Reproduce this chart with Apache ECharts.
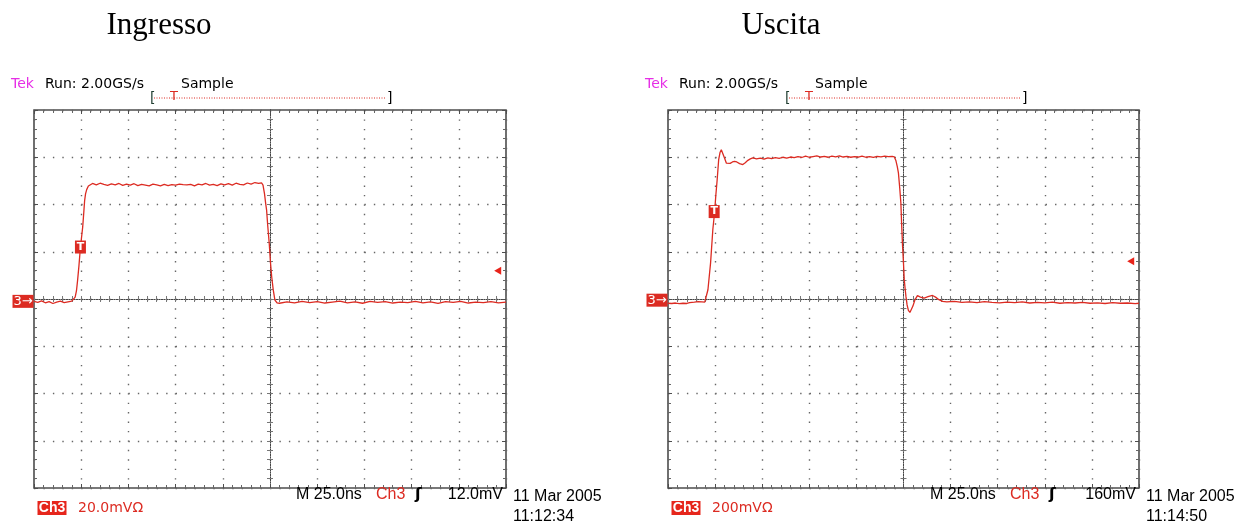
<!DOCTYPE html>
<html>
<head>
<meta charset="utf-8">
<script src="https://cdn.jsdelivr.net/npm/echarts@6/dist/echarts.min.js"></script>
<style>
html,body{margin:0;padding:0;background:#fff;}
#chart{width:1248px;height:524px;}
</style>
</head>
<body>
<div id="chart"></div>
<script>
// ---- data (time in ns, voltage in mV) ----
const panelTitles = ['Ingresso', 'Uscita'];
const timeAxis = {min: 0, max: 250, interval: 25};            // M 25.0ns / div
const inputVoltAxis = {min: -80, max: 80, interval: 20};      // 20.0 mV / div
const outputVoltAxis = {min: -800, max: 800, interval: 200};  // 200 mV / div
const triggerLevels = [12, 160];                              // mV
const groundLevels = [-1, -5];
const triggerPoints = [[24.6, 22], [24.5, 370]];
const scaleLabels = ['20.0mV\u03A9', '200mV\u03A9'];
const levelLabels = ['12.0mV', '160mV'];
const timeStamps = ['11:12:34', '11:14:50'];

const inputSamples = [
  [0,-1.0],[2,-1.4],[4,-0.8],[6,-1.6],[8,-1.1],[10,-1.9],[12,-1.3],[14,-0.9],[16,-1.5],[18,-1.2],
  [20,-0.9],[21,-0.6],[21.8,0.8],[22.5,3.5],[23.1,8],[23.8,14],[24.4,20],[25.1,25.5],[25.8,30.5],
  [26.4,37],[26.8,41.5],[27.3,44.5],[27.9,46.3],[28.8,47.8],[29.7,48.5],[31,48.9],[33,48.3],[35,49.0],
  [37,48.5],[39,48.1],[41,48.7],[43,48.3],[45,48.9],[47,48.1],[49,48.6],[51,48.2],[53,48.8],[55,48.0],
  [57,48.5],[59,48.2],[61,47.9],[63,48.6],[65,48.3],[67,47.9],[69,48.5],[71,48.0],[73,48.4],[75,48.2],
  [77,48.6],[79,48.4],[81,48.3],[83,48.5],[85,47.9],[87,48.6],[89,48.3],[91,48.9],[93,48.2],[95,48.5],
  [97,48.0],[99,48.7],[101,48.3],[103,48.8],[105,48.2],[107,49.0],[109,48.5],[111,48.3],[113,49.1],
  [115,48.6],[117,49.3],[119,48.9],[120.5,49.2],[121.3,48.2],[122.1,44.5],[122.7,40.5],[123.2,37.6],
  [123.8,31],[124.6,23.5],[125.2,16],[125.9,9.4],[126.7,4],[127.6,-0.5],[128.7,-1.6],
  [130,-1.8],[134,-1.2],[138,-1.6],[142,-1.0],[146,-1.5],[150,-1.1],[154,-1.7],[158,-1.3],[162,-0.9],
  [166,-1.6],[170,-1.2],[174,-1.8],[178,-1.0],[182,-1.4],[186,-1.1],[190,-1.7],[194,-1.3],[198,-1.5],
  [202,-1.0],[206,-1.6],[210,-1.2],[214,-1.9],[218,-1.1],[222,-1.4],[226,-1.0],[230,-1.7],[234,-1.3],
  [238,-1.5],[242,-1.1],[246,-1.6],[250,-1.3]
];

const outputSamples = [
  [0,-18],[2,-19],[4,-17],[6,-20],[8,-18],[10,-19],[11.5,-15],[12.5,-12],[14,-13],[16,-11],[18,-12],
  [19.5,-13],[20.3,-10],[21.2,39],[22.6,153],[23.8,294],[24.7,364],[25.4,440],[26.1,505],[26.9,590],
  [27.6,620],[28.3,632],[29.0,625],[30.0,597],[31.0,575],[31.8,569],[33.0,574],[34.2,580],[35.3,583],
  [36.5,580],[38.0,573],[39.7,569],[41.0,577],[42.4,587],[43.7,593],[45.0,597],[47,593],[49,596],
  [51,592],[53,597],[55,594],[57,598],[59,595],[61,600],[63,596],[65,601],[67,598],[69,603],[71,599],
  [73,605],[75,600],[77,603],[79,606],[81,601],[83,604],[85,600],[87,605],[89,602],[91,606],[93,601],
  [95,604],[97,600],[99,603],[101,601],[103,605],[105,600],[107,603],[109,599],[111,604],[113,602],
  [115,605],[117,603],[119,604],[120.1,602],[121.0,585],[121.7,560],[122.3,534],[123.0,470],[123.6,407],
  [124.0,320],[124.5,223],[125.0,150],[125.4,82],[125.9,40],[126.3,11],[126.9,-25],[127.6,-48],
  [128.4,-57],[129.2,-50],[130.0,-30],[131.0,-5],[132.4,14],[134.0,8],[136.0,4],[138.0,10],[140.4,15],
  [142.0,8],[143.8,-3],[145.7,-10],[148,-12],[152,-10],[156,-14],[160,-12],[164,-15],[168,-11],
  [172,-14],[176,-16],[180,-13],[184,-15],[188,-12],[192,-17],[196,-14],[200,-16],[204,-13],[208,-18],
  [212,-15],[216,-17],[220,-14],[224,-18],[228,-16],[232,-19],[236,-15],[240,-18],[244,-17],[248,-20],
  [250,-18]
];

// ---- styling / layout ----
const RED = '#dc2b22';
const FRAME = '#4d4d4d';
const GRIDDOT = '#666';
const SCOPE_FONT = '"DejaVu Sans", Verdana, sans-serif';
const LABEL_FONT = '"Liberation Sans", Arial, sans-serif';
const panels = [
  {left: 34, width: 472},
  {left: 668, width: 471}
];
const TOP = 110, HEIGHT = 378;

function frameAxis(gi, pos, range, showSplit) {
  return {
    type: 'value', gridIndex: gi, position: pos,
    min: range.min, max: range.max, interval: range.interval,
    axisLine: {show: false, onZero: false},
    axisTick: {show: true, inside: true, length: 4, lineStyle: {color: FRAME, width: 1}},
    minorTick: {show: true, splitNumber: 5, length: 3, lineStyle: {color: '#666', width: 1}},
    axisLabel: {show: false},
    splitLine: {show: showSplit, lineStyle: {color: GRIDDOT, width: 1.4, type: [1.4, 8.04]}},
    minorSplitLine: {show: false}
  };
}
function centerAxis(gi, pos, range, offset, inside) {
  return {
    type: 'value', gridIndex: gi, position: pos, offset: offset,
    min: range.min, max: range.max, interval: range.interval,
    axisLine: {show: true, onZero: false, lineStyle: {color: '#444', width: 1, type: [1, 1.5]}},
    axisTick: {show: true, inside: inside, length: 3, lineStyle: {color: '#777', width: 1}},
    minorTick: {show: true, splitNumber: 5, length: 3, lineStyle: {color: '#777', width: 1}},
    axisLabel: {show: false},
    splitLine: {show: false}
  };
}

const grids = [], xAxes = [], yAxes = [], series = [];
const voltRanges = [inputVoltAxis, outputVoltAxis];
const samples = [inputSamples, outputSamples];

panels.forEach((p, gi) => {
  grids.push({left: p.left, top: TOP, width: p.width, height: HEIGHT, show: true,
    borderColor: FRAME, borderWidth: 1.6, backgroundColor: '#fff', containLabel: false});
  const vr = voltRanges[gi];
  xAxes.push(frameAxis(gi, 'bottom', timeAxis, true));
  xAxes.push(frameAxis(gi, 'top', timeAxis, false));
  xAxes.push(centerAxis(gi, 'bottom', timeAxis, -HEIGHT / 2, true));
  xAxes.push(centerAxis(gi, 'bottom', timeAxis, -HEIGHT / 2, false));
  yAxes.push(frameAxis(gi, 'left', vr, true));
  yAxes.push(frameAxis(gi, 'right', vr, false));
  yAxes.push(centerAxis(gi, 'left', vr, -p.width / 2, true));
  yAxes.push(centerAxis(gi, 'left', vr, -p.width / 2, false));

  series.push({
    type: 'line', xAxisIndex: gi * 4, yAxisIndex: gi * 4,
    data: samples[gi], showSymbol: false, symbol: 'none', smooth: false,
    lineStyle: {color: RED, width: 1.3}, z: 5, animation: false, silent: true,
    markPoint: {
      silent: true, animation: false, z: 10,
      data: [
        {coord: triggerPoints[gi], symbol: 'rect', symbolSize: [11, 13],
          itemStyle: {color: RED},
          label: {show: true, position: 'inside', formatter: 'T', color: '#fff',
            fontSize: 11, fontWeight: 'bold', fontFamily: SCOPE_FONT}},
        {coord: [timeAxis.max - 4.4, triggerLevels[gi]], symbol: 'triangle', symbolRotate: 90,
          symbolSize: [8, 7], itemStyle: {color: '#e8231a'}, label: {show: false}},
        {coord: [timeAxis.min, groundLevels[gi]], symbol: 'rect', symbolSize: [21, 13],
          symbolOffset: [-11, 0], itemStyle: {color: RED},
          label: {show: true, position: 'inside', formatter: '3\u2192', color: '#fff',
            fontSize: 13, fontFamily: SCOPE_FONT}}
      ]
    }
  });
});

// ---- texts around the plots ----
const graphics = [];
function txt(x, y, text, font, fill, align) {
  graphics.push({type: 'text', x: x, y: y, silent: true, z: 20,
    style: {text: text, font: font, fill: fill, align: align || 'left', verticalAlign: 'middle'}});
}
const titleX = [159, 781];
const headerX = [11, 645];
const bracketX = [[150, 387], [785, 1022]];
const bracketT = [174, 809];
panels.forEach((p, gi) => {
  const L = p.left, R = p.left + p.width;
  txt(titleX[gi], 26, panelTitles[gi], '31px "Liberation Serif", "Times New Roman", serif', '#000', 'center');
  const hx = headerX[gi];
  txt(hx, 84, 'Tek', '14px ' + SCOPE_FONT, '#e62ee6');
  txt(hx + 34, 84, 'Run: 2.00GS/s', '14px ' + SCOPE_FONT, '#000');
  txt(hx + 170, 84, 'Sample', '14px ' + SCOPE_FONT, '#000');
  // record bar
  const [b0, b1] = bracketX[gi];
  graphics.push({type: 'line', silent: true, z: 19,
    shape: {x1: b0 + 4, y1: 98, x2: b1 - 2, y2: 98},
    style: {stroke: RED, lineWidth: 1, lineDash: [1, 1.5]}});
  txt(b0, 98, '[', '14px ' + SCOPE_FONT, '#1f3d30');
  txt(b1, 98, ']', '14px ' + SCOPE_FONT, '#000');
  txt(bracketT[gi], 97, 'T', '13px ' + SCOPE_FONT, RED, 'center');
  // bottom line
  txt(L + 262, 495, 'M 25.0ns', '16px ' + LABEL_FONT, '#000');
  txt(L + 342, 495, 'Ch3', '16px ' + LABEL_FONT, RED);
  txt(L + 381, 495, '\u0283', 'bold 16px "DejaVu Sans", sans-serif', '#000');
  txt(R - 3, 495, levelLabels[gi], '16px ' + LABEL_FONT, '#000', 'right');
  txt(R + 7, 497, '11 Mar 2005', '16px ' + LABEL_FONT, '#000');
  txt(R + 7, 517, timeStamps[gi], '16px ' + LABEL_FONT, '#000');
  graphics.push({type: 'rect', silent: true, z: 19,
    shape: {x: L + 3.5, y: 501, width: 29, height: 14}, style: {fill: '#e6261c'}});
  txt(L + 18, 508.5, 'Ch3', 'bold 14px ' + LABEL_FONT, '#fff', 'center');
  txt(L + 44, 508, scaleLabels[gi], '14px ' + SCOPE_FONT, RED);
});

const chart = echarts.init(document.getElementById('chart'), null, {renderer: 'canvas'});
chart.setOption({
  backgroundColor: '#fff',
  animation: false,
  grid: grids,
  xAxis: xAxes,
  yAxis: yAxes,
  series: series,
  graphic: graphics
});
</script>
</body>
</html>
